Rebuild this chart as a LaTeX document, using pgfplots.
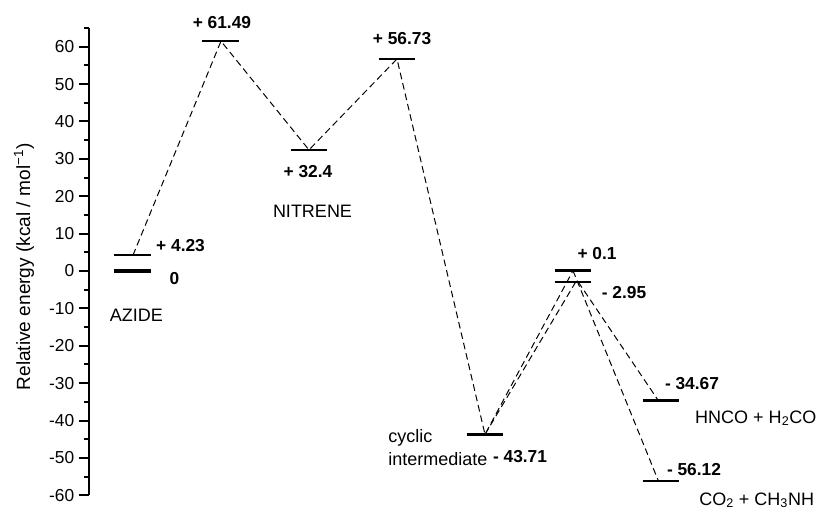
\documentclass[border=0pt]{standalone}
\usepackage{fontspec}
\setmainfont{Liberation Sans}
\usepackage{pgfplots}
\pgfplotsset{compat=1.18}

\begin{document}
\begin{tikzpicture}[
  lvl/.style={black, line width=2pt},
  link/.style={black, line width=0.75pt, dash pattern=on 5pt off 3pt},
  evalue/.style={font=\fontsize{13}{15}\selectfont\bfseries, inner sep=0pt},
  species/.style={font=\fontsize{13.5}{16}\selectfont, inner sep=0pt},
]
\begin{axis}[
  x=66pt, y=2.8035pt,
  xmin=-0.5, xmax=7.8, ymin=-60, ymax=65,
  axis x line=none,
  axis y line*=left,
  axis line style={line width=1.5pt, black},
  ytick={-60,-50,...,60},
  yticklabels={-60,-50,-40,-30,-20,-10,0,10,20,30,40,50,60},
  minor ytick={-55,-45,...,65},
  tick align=outside,
  major tick length=7.5pt,
  minor tick length=3.75pt,
  tick style={line width=1.5pt, black},
  yticklabel style={font=\fontsize{13}{15}\selectfont},
  ylabel={Relative energy (kcal / mol\textsuperscript{−1})},
  ylabel style={font=\fontsize{14.3}{16}\selectfont, at={(axis cs:-1.239,1.1)}, anchor=center},
  clip=false,
]
% connecting paths between stationary points
\addplot[link] coordinates {(0,4.23) (1,61.49) (2,32.4) (3,56.73) (4,-43.71) (5,0.1)};
\addplot[link] coordinates {(4,-43.71) (5.03,-2.95)};
\addplot[link] coordinates {(5,0.1) (5.97,-56.12)};
\addplot[link] coordinates {(5.06,-2.95) (5.97,-34.67)};

% energy levels
\addplot[lvl, line width=2.7pt] coordinates {(-0.21,0) (0.21,0)};
\addplot[lvl, line width=1.8pt] coordinates {(-0.21,4.23) (0.21,4.23)};
\addplot[lvl] coordinates {(0.79,61.49) (1.21,61.49)};
\addplot[lvl] coordinates {(1.79,32.4) (2.21,32.4)};
\addplot[lvl] coordinates {(2.79,56.73) (3.21,56.73)};
\addplot[lvl] coordinates {(3.79,-43.71) (4.21,-43.71)};
\addplot[lvl, line width=2.7pt] coordinates {(4.79,0.1) (5.21,0.1)};
\addplot[lvl] coordinates {(4.79,-2.95) (5.21,-2.95)};
\addplot[lvl, line width=1.7pt] coordinates {(5.79,-34.67) (6.21,-34.67)};
\addplot[lvl, line width=1.7pt] coordinates {(5.79,-56.12) (6.21,-56.12)};

% energy values
\node[evalue] at (axis cs:1.011,66.5) {+ 61.49};
\node[evalue] at (axis cs:3.057,62.3) {+ 56.73};
\node[evalue] at (axis cs:1.989,26.6) {+ 32.4};
\node[evalue, anchor=west] at (axis cs:0.261,6.8) {+ 4.23};
\node[evalue] at (axis cs:0.472,-1.9) {0};
\node[evalue] at (axis cs:4.398,-49.5) {- 43.71};
\node[evalue] at (axis cs:5.273,4.7) {+ 0.1};
\node[evalue] at (axis cs:5.58,-5.75) {- 2.95};
\node[evalue] at (axis cs:6.352,-30.0) {- 34.67};
\node[evalue] at (axis cs:6.375,-53.1) {- 56.12};

% species names
\node[species] at (axis cs:0.04,-11.8) {AZIDE};
\node[species] at (axis cs:2.04,16.1) {NITRENE};
\node[species, anchor=base west] at (axis cs:2.898,-45.9) {cyclic};
\node[species, anchor=base west] at (axis cs:2.898,-52.1) {intermediate};
\node[species, anchor=base west] at (axis cs:6.386,-40.66) {HNCO + H\textsubscript{2}CO};
\node[species, anchor=base west] at (axis cs:6.432,-62.6) {CO\textsubscript{2} + CH\textsubscript{3}NH};

\coordinate (bbSW) at (axis cs:-1.511,-64.2);
\coordinate (bbNE) at (axis cs:7.784,72.5);
\end{axis}
\pgfresetboundingbox
\path[use as bounding box] (bbSW) rectangle (bbNE);
\end{tikzpicture}
\end{document}
